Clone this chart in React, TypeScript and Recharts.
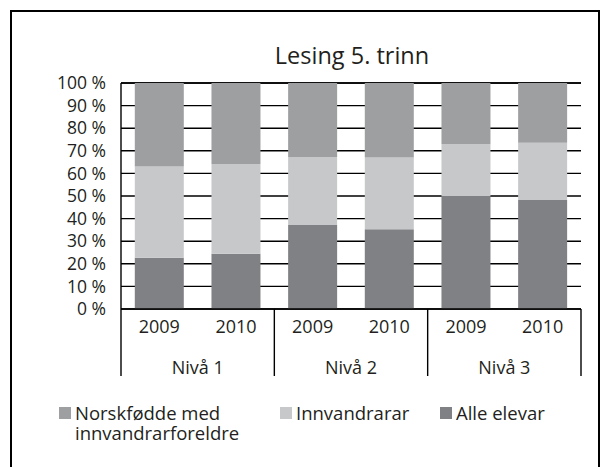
import { BarChart, Bar, XAxis, YAxis, CartesianGrid, Legend } from "recharts";

const years = ["2009", "2010", "2009", "2010", "2009", "2010"];
const levels = ["Nivå 1", "Nivå 1", "Nivå 2", "Nivå 2", "Nivå 3", "Nivå 3"];
const alleElevar = [22.7, 24.5, 37.2, 35.3, 50.0, 48.2];
const innvandrarar = [40.4, 39.7, 30.1, 31.7, 23.0, 25.4];
const norskfodde = [36.9, 35.8, 32.7, 33.0, 27.0, 26.4];
const yTicks = [0, 10, 20, 30, 40, 50, 60, 70, 80, 90, 100];

const data = years.map((y, i) => ({
  key: `${levels[i]}-${y}`,
  year: y,
  level: levels[i],
  alle: alleElevar[i],
  innv: innvandrarar[i],
  norsk: norskfodde[i],
}));

const FONT = "'Open Sans', sans-serif";
const INK = "#231f20";
const PLOT_W = 460;

const LevelTick = (props: any) => {
  const { x, y, index, payload } = props;
  const bw = PLOT_W / data.length;
  const last = index === data.length - 1;
  return (
    <g>
      {index % 2 === 0 && (
        <>
          <line x1={x - bw / 2} x2={x - bw / 2} y1={y - 36} y2={y + 31} stroke="#000" strokeWidth={1.4} />
          <text x={x + bw / 2} y={y + 16} dy="0.71em" textAnchor="middle" fill={INK} fontSize={18} fontFamily={FONT}>
            {payload.value}
          </text>
        </>
      )}
      {last && <line x1={x + bw / 2} x2={x + bw / 2} y1={y - 36} y2={y + 31} stroke="#000" strokeWidth={1.4} />}
    </g>
  );
};

const LegendContent = (props: any) => {
  const items = [...(props.payload || [])].reverse();
  const widths = [221, 160, 160];
  return (
    <div style={{ display: "flex", fontFamily: FONT, fontSize: 18.5, color: INK, lineHeight: "20px" }}>
      {items.map((it: any, i: number) => (
        <div key={it.value} style={{ width: widths[i], display: "flex", alignItems: "flex-start" }}>
          <span style={{ width: 12, height: 12, background: it.color, marginTop: 4, marginRight: 4, flexShrink: 0 }} />
          <span style={{ width: i === 0 ? 195 : undefined }}>{it.value}</span>
        </div>
      ))}
    </div>
  );
};

export default function App() {
  return (
    <div style={{ position: "relative", width: 610, height: 467, overflow: "hidden", background: "#fff" }}>
      <style>{"body{margin:0}"}</style>
      <div
        style={{
          position: "absolute",
          left: 10,
          top: 10,
          width: 590,
          height: 520,
          border: "2px solid #000",
          boxSizing: "border-box",
        }}
      />
      <div
        style={{
          position: "absolute",
          left: 202,
          top: 41,
          width: 300,
          textAlign: "center",
          fontFamily: FONT,
          fontSize: 23.5,
          lineHeight: "28px",
          color: INK,
        }}
      >
        Lesing 5. trinn
      </div>
      <div style={{ position: "absolute", left: 0, top: 0 }}>
        <BarChart
          width={610}
          height={467}
          data={data}
          margin={{ top: 83, right: 29, bottom: 90, left: 61 }}
          barCategoryGap="18%"
        >
          <CartesianGrid horizontal vertical={false} stroke="#000" strokeWidth={1.4} />
          <YAxis
            domain={[0, 100]}
            ticks={yTicks}
            interval={0}
            width={60}
            axisLine={{ stroke: "#000", strokeWidth: 1.4 }}
            tickLine={false}
            tickSize={0}
            tickMargin={15}
            tickFormatter={(v) => `${v} %`}
            tick={{ fill: INK, fontSize: 17.5, fontFamily: FONT }}
          />
          <XAxis
            dataKey="key"
            xAxisId={0}
            height={36}
            axisLine={{ stroke: "#000", strokeWidth: 1.4 }}
            tickLine={false}
            tickSize={0}
            tickMargin={11}
            interval={0}
            tickFormatter={(_v, i) => years[i]}
            tick={{ fill: INK, fontSize: 18, fontFamily: FONT }}
          />
          <XAxis
            dataKey="level"
            xAxisId="lvl"
            height={32}
            axisLine={false}
            tickLine={false}
            tickSize={0}
            tickMargin={0}
            interval={0}
            allowDuplicatedCategory
            tick={<LevelTick />}
          />
          <Bar dataKey="alle" name="Alle elevar" stackId="s" fill="#808184" isAnimationActive={false} />
          <Bar dataKey="innv" name="Innvandrarar" stackId="s" fill="#c7c8ca" isAnimationActive={false} />
          <Bar
            dataKey="norsk"
            name="Norskfødde med innvandrarforeldre"
            stackId="s"
            fill="#9e9fa1"
            isAnimationActive={false}
          />
          <Legend
            layout="vertical"
            align="center"
            verticalAlign="middle"
            wrapperStyle={{ top: 403, left: 59, width: 545 }}
            content={<LegendContent />}
          />
        </BarChart>
      </div>
    </div>
  );
}
